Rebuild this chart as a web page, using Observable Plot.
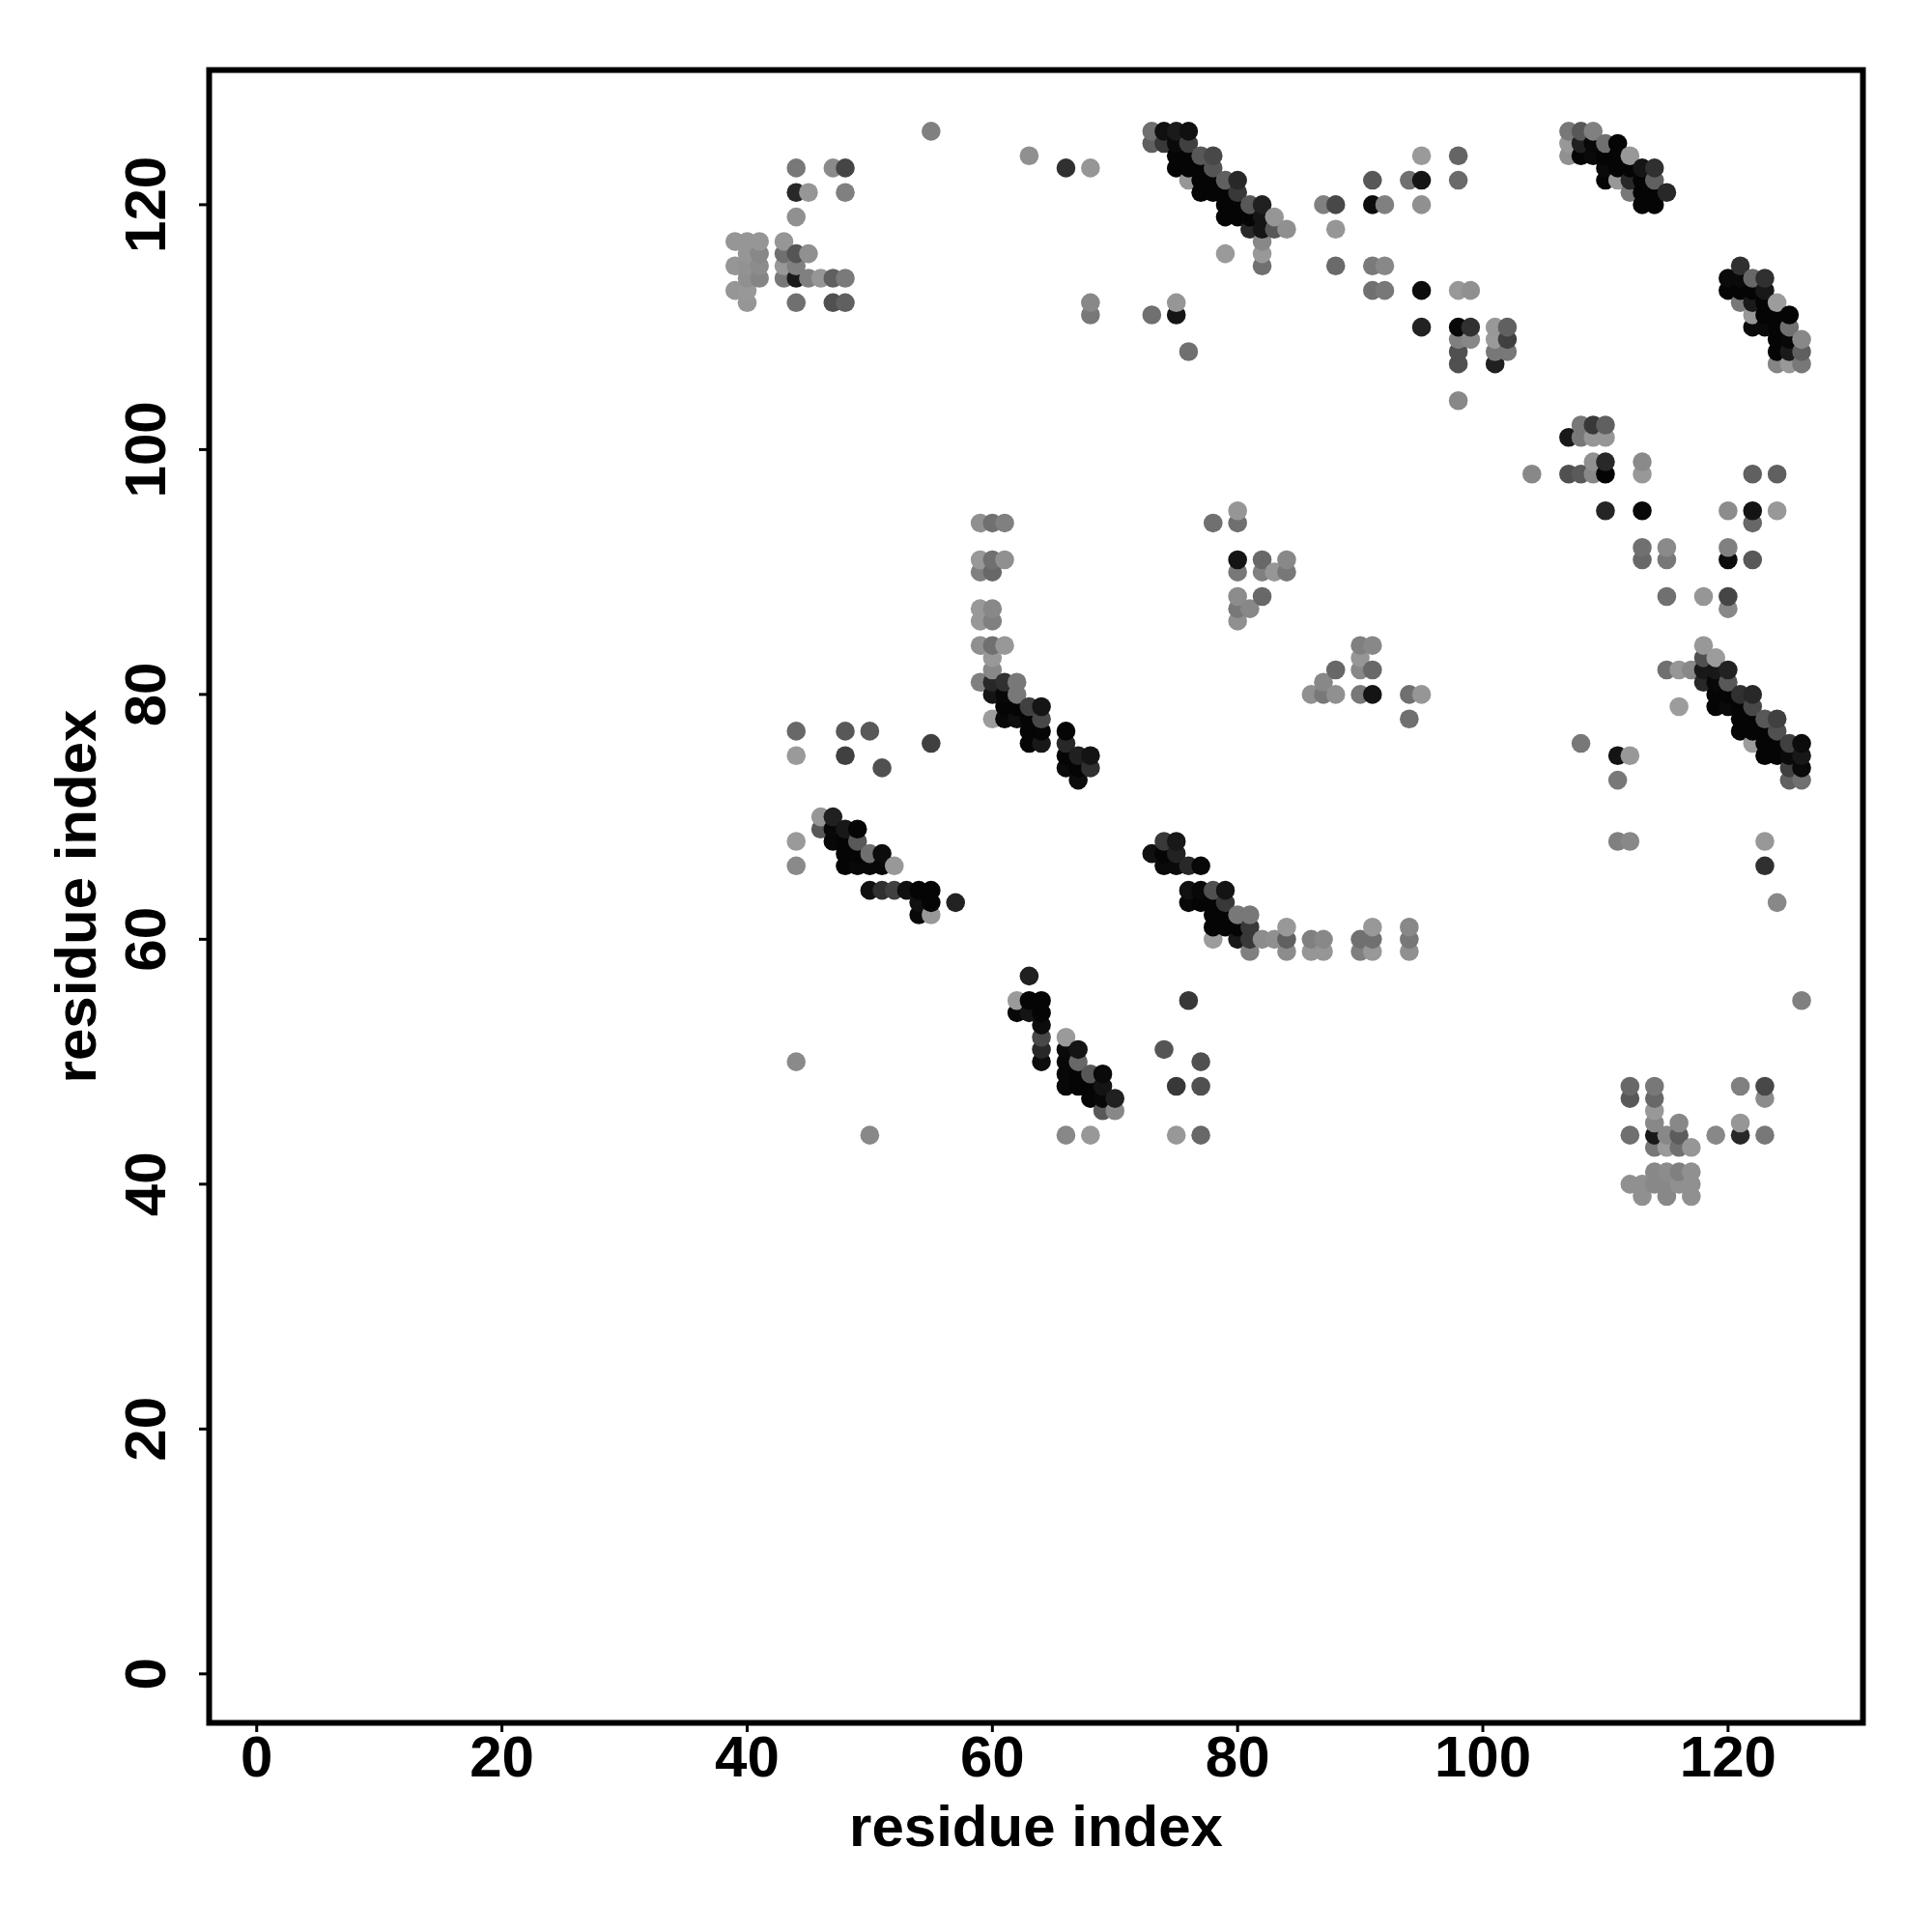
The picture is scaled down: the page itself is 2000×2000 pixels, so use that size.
<!DOCTYPE html>
<html>
<head>
<meta charset="utf-8">
<style>html,body{margin:0;padding:0;background:#fff}svg{display:block}</style>
<script src="https://cdn.jsdelivr.net/npm/d3@7"></script>
<script src="https://cdn.jsdelivr.net/npm/@observablehq/plot@0.6"></script>
</head>
<body>
<div id="chart"></div>
<script>
const axisTicks = [0, 20, 40, 60, 80, 100, 120];
const axisLabel = "residue index";
// one entry per row of the contact map: residue j, the residues i in that row, and their grey level
const rowY = [126,125,124,123,122,121,120,119,118,117,116,115,114,113,112,111,110,109,108,107,104,102,101,99,98,95,94,92,91,90,88,87,86,84,83,82,81,80,79,78,77,76,75,74,73,70,69,68,67,66,64,63,62,61,60,59,57,55,54,53,52,51,50,49,48,47,46,45,44,43,41,40,39];
const rowX = [
[55,73,74,75,76,107,108,109],
[73,74,75,76,107,108,109,110,111],
[63,75,76,77,78,95,98,107,108,109,110,111,112],
[44,47,48,66,68,75,76,77,78,110,111,112,113,114],
[76,77,78,79,80,91,94,95,98,110,111,112,113,114],
[44,45,48,77,78,79,80,112,113,114,115],
[79,80,81,82,87,88,91,92,95,113,114],
[44,79,80,81,82,83],
[81,82,83,84,88],
[39,40,41,43,82],
[40,41,43,44,45,79,82],
[39,40,41,43,44,82,88,91,92,121],
[40,41,43,44,45,46,47,48,120,121,122,123],
[39,40,91,92,95,98,99,120,121,122,123],
[40,44,47,48,68,75,121,122,123,124],
[68,73,75,122,123,124,125],
[95,98,99,101,102,122,123,124,125],
[98,99,101,102,124,125,126],
[76,98,101,102,124,125,126],
[98,101,124,125,126],
[98],
[108,109,110],
[107,108,109,110],
[109,110,113],
[104,107,108,109,110,113,122,124],
[80,110,113,120,122,124],
[59,60,61,78,80,122],
[113,115,120],
[59,60,61,80,82,84,113,115,120,122],
[59,60,80,82,83,84],
[80,82,115,118,120],
[59,60,80,81,120],
[59,60,80],
[59,60,61,90,91,118],
[60,90,118,119],
[60,88,90,91,115,116,117,118,119,120],
[59,60,61,62,87,118,119,120],
[60,61,62,86,87,88,90,91,94,95,119,120,121,122],
[61,62,63,64,116,119,120,121,122],
[60,61,62,63,64,94,121,122,123,124],
[44,48,50,63,64,66,121,122,123,124],
[55,63,64,66,108,122,123,124,125,126],
[44,48,66,67,68,111,112,123,124,125,126],
[51,66,67,68,125,126],
[67,111,125,126],
[46,47],
[46,47,48,49],
[44,47,48,49,74,75,111,112,123],
[48,49,50,51,73,74,75],
[44,48,49,50,51,52,74,75,76,77,123],
[50,51,52,53,54,55,76,77,78,79],
[54,55,57,76,77,78,79,124],
[54,55,78,79,80,81],
[78,79,80,81,84,91,94],
[78,80,81,82,83,84,86,87,90,91,94],
[81,84,86,87,90,91,94],
[63],
[62,63,64,76,126],
[62,63,64],
[64],
[64,66],
[64,66,67,74],
[44,64,66,67,77],
[66,67,68,69],
[66,67,68,69,75,77,112,114,121,123],
[68,69,70,112,114,123],
[69,70,114],
[114,116,121],
[50,66,68,75,77,112,114,115,116,119,121,123],
[114,115,116,117],
[114,115,116,117],
[112,113,114,115,116,117],
[113,115,117]
];
const rowShade = [
[0x80,0x70,0x10,0x1a,0x10,0x78,0x58,0x80],
[0x60,0x38,0x0a,0x40,0x98,0x20,0x08,0x70,0x05],
[0x90,0x05,0x05,0x58,0x48,0x9a,0x65,0x90,0x05,0x0a,0x05,0x05,0x98],
[0x78,0x8a,0x45,0x30,0x96,0x05,0x05,0x05,0x55,0x0a,0x05,0x05,0x15,0x30],
[0x96,0x05,0x05,0x60,0x28,0x58,0x70,0x15,0x6a,0x05,0x98,0x28,0x05,0x60],
[0x28,0x96,0x80,0x05,0x05,0x05,0x38,0x78,0x05,0x05,0x28],
[0x05,0x05,0x58,0x20,0x80,0x48,0x0c,0x80,0x90,0x05,0x05],
[0x90,0x05,0x05,0x05,0x15,0x96],
[0x28,0x15,0x58,0x90,0x96],
[0x96,0x96,0x96,0x96,0x88],
[0x96,0x88,0x70,0x55,0x90,0x9a,0x98],
[0x96,0x92,0x8c,0x98,0x80,0x70,0x6a,0x7a,0x88,0x30],
[0x90,0x85,0x78,0x1a,0x80,0x96,0x60,0x7a,0x0a,0x0a,0x68,0x30],
[0x96,0x98,0x70,0x78,0x0c,0x98,0x90,0x05,0x05,0x05,0x18],
[0x96,0x70,0x50,0x60,0x88,0x96,0x78,0x1a,0x05,0x9c],
[0x78,0x70,0x15,0x98,0x05,0x05,0x05],
[0x22,0x08,0x30,0x98,0x60,0x0a,0x0a,0x05,0x70],
[0x80,0x88,0x9a,0x40,0x05,0x08,0x88],
[0x70,0x50,0x78,0x78,0x05,0x1a,0x60],
[0x50,0x20,0x85,0x98,0x78],
[0x88],
[0x78,0x38,0x60],
[0x18,0x78,0x96,0x96],
[0x90,0x28,0x8a],
[0x88,0x50,0x5a,0x88,0x04,0x98,0x60,0x60],
[0x96,0x25,0x08,0x8c,0x14,0x98],
[0x90,0x70,0x80,0x70,0x70,0x68],
[0x70,0x8a,0x80],
[0x98,0x70,0x90,0x14,0x68,0x88,0x68,0x78,0x0c,0x58],
[0x80,0x68,0x78,0x80,0x96,0x78],
[0x8c,0x68,0x70,0x96,0x45],
[0x98,0x88,0x78,0x88,0x88],
[0x98,0x80,0x90],
[0x90,0x70,0x98,0x80,0x88,0x98],
[0x98,0x96,0x50,0x9c],
[0x88,0x68,0x88,0x68,0x70,0x96,0x88,0x18,0x18,0x22],
[0x80,0x28,0x30,0x78,0x88,0x28,0x08,0x58],
[0x14,0x08,0x78,0x90,0x78,0x90,0x78,0x14,0x70,0x96,0x05,0x05,0x30,0x28],
[0x05,0x05,0x40,0x15,0x9c,0x05,0x0a,0x05,0x48],
[0x9c,0x08,0x0e,0x05,0x48,0x70,0x05,0x05,0x58,0x40],
[0x68,0x58,0x58,0x05,0x05,0x05,0x05,0x05,0x05,0x50],
[0x40,0x05,0x18,0x28,0x78,0x9c,0x05,0x05,0x40,0x0c],
[0x9a,0x40,0x05,0x20,0x14,0x14,0x98,0x05,0x05,0x0a,0x18],
[0x50,0x0a,0x05,0x30,0x40,0x0a],
[0x0c,0x78,0x60,0x70],
[0x96,0x20],
[0x58,0x08,0x18,0x05],
[0x9a,0x08,0x05,0x58,0x38,0x18,0x80,0x88,0x98],
[0x05,0x05,0x70,0x0c,0x10,0x05,0x22],
[0x8a,0x05,0x08,0x08,0x08,0x98,0x0a,0x0a,0x28,0x08,0x30],
[0x10,0x30,0x40,0x10,0x05,0x05,0x10,0x08,0x50,0x14],
[0x10,0x05,0x22,0x08,0x05,0x05,0x38,0x88],
[0x08,0x98,0x05,0x05,0x78,0x78],
[0x05,0x05,0x05,0x38,0x98,0x98,0x88],
[0x9c,0x18,0x38,0x8c,0x90,0x60,0x80,0x88,0x70,0x70,0x78],
[0x80,0x8c,0x96,0x96,0x80,0x98,0x90],
[0x20],
[0x9a,0x05,0x05,0x38,0x80],
[0x08,0x14,0x05],
[0x0c],
[0x48,0x9a],
[0x28,0x0a,0x14,0x55],
[0x8a,0x0c,0x08,0x68,0x50],
[0x08,0x05,0x58,0x0a],
[0x08,0x05,0x05,0x14,0x38,0x50,0x68,0x78,0x80,0x48],
[0x05,0x08,0x20,0x58,0x68,0x8c],
[0x58,0x88,0x98],
[0x88,0x88,0x96],
[0x88,0x88,0x98,0x98,0x68,0x70,0x18,0x88,0x5c,0x88,0x28,0x78],
[0x78,0x9a,0x70,0x96],
[0x88,0x8c,0x80,0x90],
[0x90,0x90,0x88,0x88,0x90,0x90],
[0x90,0x88,0x90]
];

const contacts = rowY.flatMap((y, r) => rowX[r].map((x, k) => ({x, y, shade: rowShade[r][k]})));
contacts.sort((a, b) => d3.ascending(a.x, b.x) || d3.ascending(a.y, b.y));

const fontBold = {fontFamily: "Liberation Sans", fontWeight: "bold"};

const chart = Plot.plot({
  width: 2000,
  height: 2000,
  marginLeft: 216,
  marginRight: 72,
  marginTop: 72,
  marginBottom: 217,
  style: {background: "#fff", color: "#000", fontFamily: "Liberation Sans", overflow: "visible"},
  x: {domain: [-3.88, 131], label: null},
  y: {domain: [-4, 131], label: null},
  color: {type: "linear", domain: [0, 255], range: ["#000", "#fff"], interpolate: "rgb"},
  marks: [
    Plot.dot(contacts, {x: "x", y: "y", fill: "shade", r: 9.8, stroke: null}),
    Plot.frame({stroke: "#000", strokeWidth: 6}),
    Plot.axisX({
      ticks: axisTicks, tickSize: 10, tickPadding: 3, tickFormat: d => String(d),
      strokeWidth: 3, fontSize: 60, ...fontBold,
      label: axisLabel, labelArrow: "none", labelAnchor: "center", labelOffset: 127
    }),
    Plot.axisY({
      ticks: axisTicks, tickSize: 10, tickPadding: 36, tickFormat: d => String(d),
      tickRotate: -90, textAnchor: "middle",
      strokeWidth: 3, fontSize: 60, ...fontBold,
      label: axisLabel, labelArrow: "none", labelAnchor: "center", labelOffset: 160
    })
  ]
});
document.getElementById("chart").append(chart);
</script>
</body>
</html>
